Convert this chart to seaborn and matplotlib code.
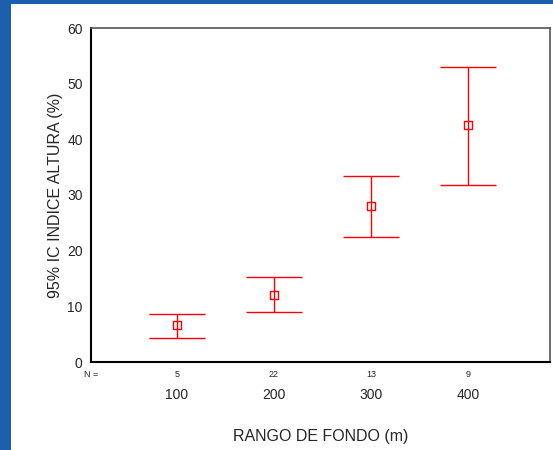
import numpy as np
import pandas as pd
import matplotlib
matplotlib.use("Agg")
import matplotlib.pyplot as plt
import seaborn as sns
from matplotlib.patches import Rectangle

# datos
rangos = ["100", "200", "300", "400"]
n_casos = [5, 22, 13, 9]
media = [6.6, 12.0, 28.0, 42.5]
ic_inf = [4.3, 9.0, 22.4, 31.8]
ic_sup = [8.7, 15.2, 33.5, 53.0]

df = pd.DataFrame({"rango": rangos, "media": media, "inf": ic_inf, "sup": ic_sup, "n": n_casos})

sns.set_style("white")
plt.rcParams["font.family"] = ["Liberation Sans", "DejaVu Sans"]

fig = plt.figure(figsize=(5.53, 4.5), dpi=100)
fig.patch.set_facecolor("#1b5fae")
# panel blanco de la diapositiva
fig.patches.append(Rectangle((11 / 553, 0), 1, 1 - 4 / 450, transform=fig.transFigure,
                             facecolor="white", edgecolor="none", zorder=-5))

ax = fig.add_axes([91 / 553, 1 - 362 / 450, (550 - 91) / 553, (362 - 28) / 450])
ax.set_facecolor("white")

pos = np.arange(len(df))
ax.errorbar(pos, df["media"], yerr=[df["media"] - df["inf"], df["sup"] - df["media"]],
            fmt="none", ecolor="#ff0000", elinewidth=1, capsize=20, capthick=1, zorder=3)
sns.scatterplot(x=pos, y=df["media"], ax=ax, marker="s", s=32, facecolor="none",
                edgecolor="#ff0000", linewidth=1, zorder=4)

ax.set_xlim(-0.887, 3.845)
ax.set_ylim(0, 60)
ax.set_yticks(range(0, 61, 10))
ax.set_xticks(pos)
ax.set_xticklabels(df["rango"], fontsize=10)
ax.tick_params(axis="y", labelsize=10, length=3, width=2, color="black", direction="out", pad=3)
ax.tick_params(axis="x", length=3, width=2, color="black", direction="out", pad=16)

for s in ["left", "bottom"]:
    ax.spines[s].set_color("black")
    ax.spines[s].set_linewidth(1.5)
for s in ["top", "right"]:
    ax.spines[s].set_visible(True)
    ax.spines[s].set_color("#555555")
    ax.spines[s].set_linewidth(1.2)

# fila de N
tr = ax.get_xaxis_transform()
ax.text(0.0, -0.038, "N =", transform=ax.transAxes, ha="center", va="center", fontsize=6.5)
for p, n in zip(pos, df["n"]):
    ax.text(p, -0.038, str(n), transform=tr, ha="center", va="center", fontsize=6.5)

ax.set_xlabel("RANGO DE FONDO (m)", fontsize=11.5, labelpad=19)
ax.set_ylabel("95% IC INDICE ALTURA (%)", fontsize=11.5, labelpad=3)

fig.savefig("out.png", dpi=100, facecolor=fig.get_facecolor())
